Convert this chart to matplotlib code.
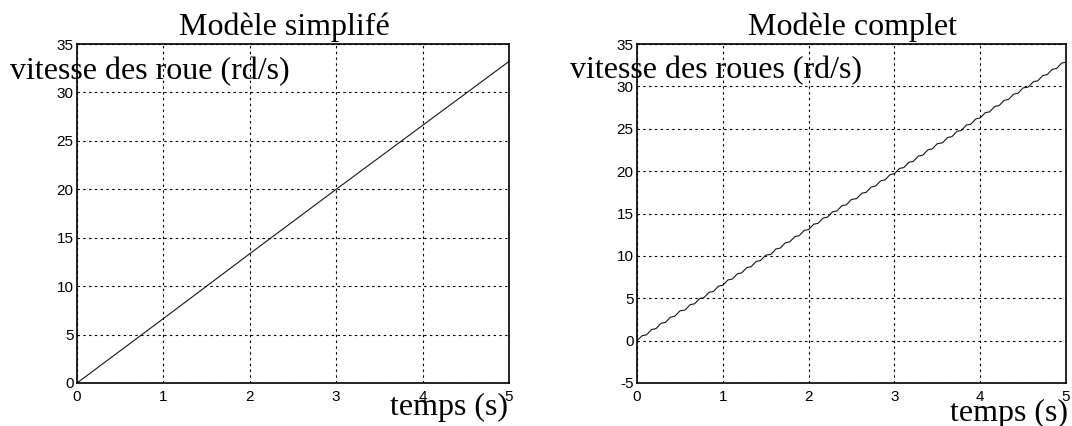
import numpy as np
import matplotlib
matplotlib.use("Agg")
import matplotlib.pyplot as plt

# ---- data -------------------------------------------------------------
# simplified model: wheel speed grows linearly
t_simple = [0.0, 1.0, 2.0, 3.0, 4.0, 5.0]
v_simple = [0.0, 6.65, 13.35, 20.0, 26.6, 33.2]

# complete model: same ramp with a small ripple (plateau start / end points)
t_plateau_start = [0.06, 0.17, 0.28, 0.39, 0.50, 0.62, 0.73, 0.84, 0.95, 1.06,
                   1.17, 1.28, 1.39, 1.50, 1.62, 1.73, 1.84, 1.95, 2.06, 2.17,
                   2.28, 2.39, 2.50, 2.62, 2.73, 2.84, 2.95, 3.06, 3.17, 3.28,
                   3.39, 3.50, 3.62, 3.73, 3.84, 3.95, 4.06, 4.17, 4.28, 4.39,
                   4.50, 4.62, 4.73, 4.84, 4.95]
v_plateau_start = [0.58, 1.31, 2.04, 2.77, 3.51, 4.24, 4.97, 5.70, 6.43, 7.16,
                   7.89, 8.62, 9.35, 10.08, 10.82, 11.55, 12.28, 13.01, 13.74, 14.47,
                   15.20, 15.93, 16.66, 17.39, 18.13, 18.86, 19.59, 20.32, 21.05, 21.78,
                   22.51, 23.24, 23.97, 24.70, 25.44, 26.17, 26.90, 27.63, 28.36, 29.09,
                   29.82, 30.55, 31.28, 32.01, 32.75]
t_plateau_end = [0.11, 0.22, 0.33, 0.44, 0.56, 0.67, 0.78, 0.89, 1.00, 1.11,
                 1.22, 1.33, 1.44, 1.56, 1.67, 1.78, 1.89, 2.00, 2.11, 2.22,
                 2.33, 2.44, 2.56, 2.67, 2.78, 2.89, 3.00, 3.11, 3.22, 3.33,
                 3.44, 3.56, 3.67, 3.78, 3.89, 4.00, 4.11, 4.22, 4.33, 4.44,
                 4.56, 4.67, 4.78, 4.89, 5.00]
v_plateau_end = [0.68, 1.41, 2.14, 2.87, 3.61, 4.34, 5.07, 5.80, 6.53, 7.26,
                 7.99, 8.72, 9.45, 10.18, 10.92, 11.65, 12.38, 13.11, 13.84, 14.57,
                 15.30, 16.03, 16.76, 17.49, 18.23, 18.96, 19.69, 20.42, 21.15, 21.88,
                 22.61, 23.34, 24.07, 24.80, 25.54, 26.27, 27.00, 27.73, 28.46, 29.19,
                 29.92, 30.65, 31.38, 32.11, 32.85]

x_ticks = [0, 1, 2, 3, 4, 5]
y_ticks_simple = [0, 5, 10, 15, 20, 25, 30, 35]
y_ticks_complete = [-5, 0, 5, 10, 15, 20, 25, 30, 35]

titles = ["Modèle simplifé", "Modèle complet"]
ylabels = ["vitesse des roue (rd/s)", "vitesse des roues (rd/s)"]
xlabel = "temps (s)"

# build the rippled polyline from the plateau points
t_complete = [0.0]
v_complete = [0.0]
for ta, va, tb, vb in zip(t_plateau_start, v_plateau_start, t_plateau_end, v_plateau_end):
    t_complete += [ta, tb]
    v_complete += [va, vb]

# ---- figure -----------------------------------------------------------
W, H = 1072, 426
fig = plt.figure(figsize=(W / 100, H / 100), dpi=100)

def px_axes(left, top, right, bottom):
    return fig.add_axes([left / W, 1 - bottom / H, (right - left) / W, (bottom - top) / H])

serif = "Liberation Serif"
sans = "Liberation Sans"
big = 23

ax1 = px_axes(77, 44, 509, 383)
ax2 = px_axes(637, 44, 1066, 383)

ax1.plot(t_simple, v_simple, color="#1a1416", lw=0.8)
ax2.plot(t_complete, v_complete, color="#1a1416", lw=0.8)

for ax, yt in ((ax1, y_ticks_simple), (ax2, y_ticks_complete)):
    ax.set_xlim(0, 5)
    ax.set_ylim(yt[0], yt[-1])
    ax.set_xticks(x_ticks)
    ax.set_yticks(yt)
    ax.set_xticklabels([str(v) for v in x_ticks], fontfamily=sans, fontsize=11)
    ax.set_yticklabels([str(v) for v in yt], fontfamily=sans, fontsize=11)
    ax.tick_params(axis="x", length=0, pad=5)
    ax.tick_params(axis="y", length=0, pad=2.5)
    ax.grid(True, color="black", lw=0.8, linestyle=(0, (2.2, 3.0)))
    for s in ax.spines.values():
        s.set_color("black")
        s.set_linewidth(1.2)
    ax.set_axisbelow(False)

# titles and axis labels as free text
fig.text(284 / W, 1 - 35 / H, titles[0], fontfamily=serif, fontsize=big,
         ha="center", va="baseline")
fig.text(852 / W, 1 - 35 / H, titles[1], fontfamily=serif, fontsize=big,
         ha="center", va="baseline")
fig.text(10 / W, 1 - 79 / H, ylabels[0], fontfamily=serif, fontsize=big,
         ha="left", va="baseline")
fig.text(570 / W, 1 - 78 / H, ylabels[1], fontfamily=serif, fontsize=big,
         ha="left", va="baseline")
fig.text(390 / W, 1 - 415 / H, xlabel, fontfamily=serif, fontsize=big,
         ha="left", va="baseline")
fig.text(950 / W, 1 - 421 / H, xlabel, fontfamily=serif, fontsize=big,
         ha="left", va="baseline")

fig.savefig("out.png", dpi=100)
